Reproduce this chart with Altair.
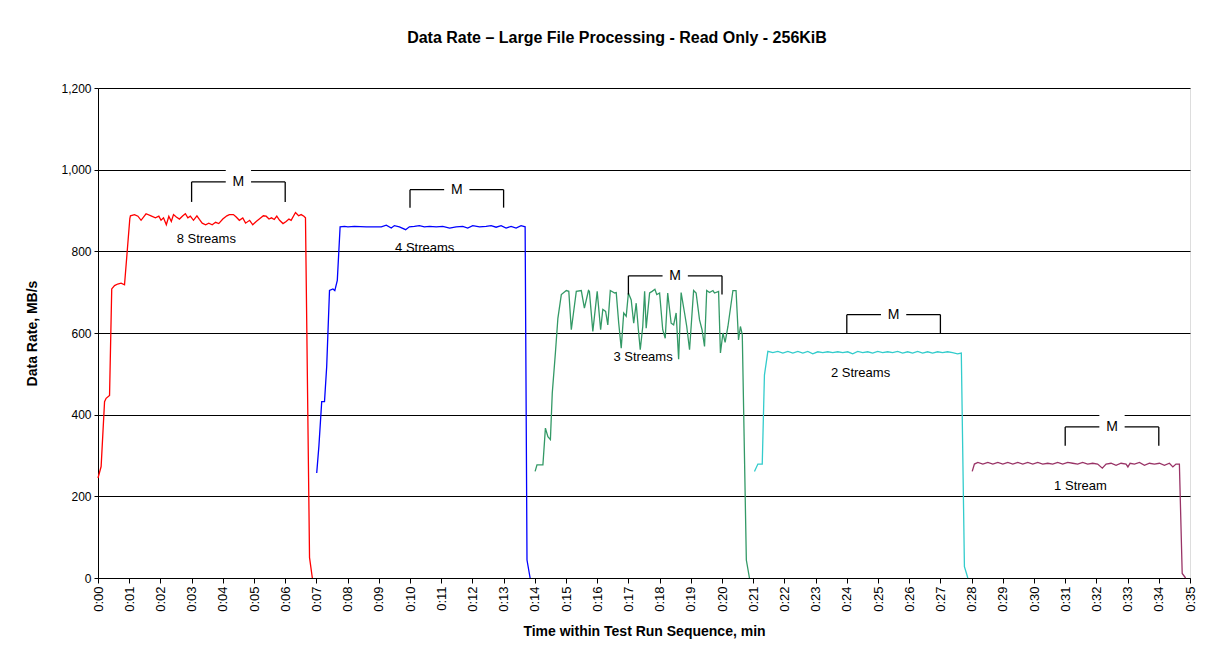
import altair as alt
import pandas as pd

# ---- data ----
red_t = [0.00, 0.10, 0.21, 0.26, 0.37, 0.44, 0.53, 0.63, 0.74, 0.85, 1.02, 1.04, 1.17, 1.28, 1.38, 1.54, 1.70, 1.84, 1.95, 2.02,
         2.10, 2.19, 2.27, 2.35, 2.42, 2.51, 2.61, 2.72, 2.80, 2.88, 2.96, 3.06, 3.17, 3.25, 3.34, 3.45, 3.55, 3.66, 3.77, 3.87,
         4.00, 4.13, 4.21, 4.34, 4.43, 4.53, 4.64, 4.73, 4.86, 4.96, 5.07, 5.17, 5.30, 5.39, 5.48, 5.56, 5.65, 5.73, 5.82, 5.93,
         6.03, 6.12, 6.19, 6.33, 6.43, 6.51, 6.60, 6.65, 6.78, 6.87]
red_v = [245, 273, 432, 440, 447, 708, 716, 720, 722, 718, 880, 887, 890, 886, 876, 892, 887, 882, 886, 876,
         882, 865, 886, 873, 890, 884, 879, 887, 892, 882, 886, 876, 887, 878, 869, 865, 869, 865, 871, 868,
         879, 887, 890, 890, 884, 876, 882, 869, 876, 865, 873, 879, 887, 886, 879, 882, 878, 886, 876, 868,
         873, 879, 876, 895, 887, 890, 886, 882, 50, 0]

blue_t = [7.01, 7.08, 7.17, 7.26, 7.33, 7.42, 7.53, 7.59, 7.67, 7.76, 7.90, 8.01, 8.22, 8.60, 9.08, 9.24, 9.40, 9.50, 9.66, 9.86,
          9.98, 10.14, 10.30, 10.46, 10.63, 10.84, 11.05, 11.27, 11.48, 11.69, 11.85, 12.01, 12.23, 12.44, 12.60, 12.76, 12.92,
          13.08, 13.24, 13.40, 13.56, 13.69, 13.75, 13.85]
blue_v = [257, 323, 432, 432, 518, 704, 708, 704, 729, 860, 861, 860, 861, 860, 860, 864, 857, 863, 860, 853,
          860, 861, 863, 860, 861, 860, 861, 857, 860, 861, 857, 863, 860, 861, 863, 859, 863,
          857, 861, 857, 863, 860, 44, 0]

green_t = [14.01, 14.07, 14.26, 14.34, 14.42, 14.50, 14.56, 14.66, 14.74, 14.85, 15.01, 15.09, 15.17, 15.33, 15.49, 15.59, 15.72,
           15.75, 15.86, 16.00, 16.11, 16.18, 16.27, 16.34, 16.42, 16.56, 16.61, 16.69, 16.77, 16.85, 16.93, 17.00, 17.09,
           17.17, 17.25, 17.32, 17.38, 17.46, 17.52, 17.57, 17.68, 17.76, 17.85, 17.91, 18.00, 18.10, 18.18, 18.26, 18.37,
           18.45, 18.53, 18.61, 18.69, 18.80, 18.87, 18.96, 19.09, 19.17, 19.28, 19.36, 19.44, 19.51, 19.60, 19.71, 19.76,
           19.89, 19.95, 20.03, 20.10, 20.19, 20.35, 20.45, 20.53, 20.59, 20.65, 20.78, 20.88]
green_v = [261, 277, 277, 367, 346, 339, 453, 551, 636, 694, 704, 702, 608, 702, 704, 661, 704,
           702, 604, 702, 608, 658, 653, 620, 704, 698, 699, 624, 563, 649, 641, 698, 681,
           624, 673, 608, 559, 616, 702, 612, 698, 702, 707, 694, 698, 608, 587, 698, 624,
           620, 649, 536, 699, 649, 616, 559, 704, 698, 632, 608, 567, 704, 699, 704, 698,
           702, 551, 600, 577, 616, 704, 704, 583, 616, 596, 44, 0]

cyan_t = [21.04, 21.15, 21.29, 21.36, 21.47, 21.63, 21.79, 21.95, 22.11, 22.27, 22.43, 22.59, 22.75, 22.91, 23.07, 23.23,
          23.39, 23.55, 23.71, 23.87, 24.03, 24.19, 24.35, 24.51, 24.67, 24.83, 24.99, 25.15, 25.31, 25.47, 25.63, 25.79,
          25.95, 26.11, 26.27, 26.43, 26.59, 26.75, 26.91, 27.07, 27.23, 27.39, 27.55, 27.67, 27.77, 27.88]
cyan_v = [261, 279, 279, 497, 555, 552, 555, 551, 555, 551, 555, 551, 555, 549, 554, 552,
          554, 552, 554, 552, 554, 549, 555, 552, 554, 551, 555, 552, 554, 552, 555, 551,
          554, 551, 555, 551, 554, 551, 554, 552, 554, 552, 549, 551, 28, 0]

purple_t = [28.02, 28.09, 28.20, 28.36, 28.52, 28.68, 28.84, 29.00, 29.16, 29.32, 29.48, 29.64, 29.80, 29.96, 30.12, 30.28,
            30.44, 30.60, 30.76, 30.92, 31.08, 31.24, 31.40, 31.56, 31.72, 31.88, 32.04, 32.19, 32.31, 32.47, 32.63, 32.79,
            32.95, 33.01, 33.08, 33.22, 33.38, 33.54, 33.70, 33.86, 34.02, 34.18, 34.34, 34.45, 34.55, 34.66, 34.75, 34.86]
purple_v = [261, 279, 283, 279, 283, 279, 283, 279, 283, 279, 283, 279, 283, 279, 283, 279,
            281, 279, 283, 279, 283, 281, 279, 283, 279, 281, 279, 269, 279, 281, 276, 281,
            279, 272, 281, 279, 283, 276, 281, 279, 281, 276, 281, 272, 279, 279, 11, 0]

series_names = ["8 Streams", "4 Streams", "3 Streams", "2 Streams", "1 Stream"]
series_colors = ["#FF0000", "#0000FF", "#339966", "#33CCCC", "#993366"]

# measurement brackets ("M")
bracket_start = [3, 10, 17, 24, 31]
bracket_end = [6, 13, 20, 27, 34]
bracket_mid = [4.5, 11.5, 18.5, 25.5, 32.5]
bracket_top = [970, 951, 740, 645, 370]
bracket_bottom = [921, 907, 694, 600, 324]

# stream labels
label_text = ["8 Streams", "4 Streams", "3 Streams", "2 Streams", "1 Stream"]
label_t = [3.47, 10.47, 17.47, 24.44, 31.49]
label_v = [830, 808, 542, 502, 225]

y_ticks = [0, 200, 400, 600, 800, 1000, 1200]
x_ticks = list(range(0, 36))

# ---- tables ----
rows = []
for name, ts, vs in zip(series_names, [red_t, blue_t, green_t, cyan_t, purple_t],
                        [red_v, blue_v, green_v, cyan_v, purple_v]):
    for t, v in zip(ts, vs):
        rows.append({"t": t, "v": v, "series": name})
lines_df = pd.DataFrame(rows)

br_df = pd.DataFrame({"start": bracket_start, "end": bracket_end, "mid": bracket_mid,
                      "top": bracket_top, "bottom": bracket_bottom, "m": ["M"] * 5})
lab_df = pd.DataFrame({"text": label_text, "t": label_t, "v": label_v})

FONT = "Liberation Sans"

x_scale = alt.Scale(domain=[0, 35], nice=False, zero=False)
y_scale = alt.Scale(domain=[0, 1200], nice=False)

x_axis = alt.Axis(values=x_ticks, labelAngle=270, labelFontSize=13, labelFont=FONT, labelColor="black",
                  labelExpr="'0:' + (datum.value < 10 ? '0' : '') + datum.value",
                  tickColor="black", tickSize=5, domainColor="black", grid=False,
                  title="Time within Test Run Sequence, min", titleFont=FONT, titleFontSize=14,
                  titleFontWeight="bold", titleColor="black", titlePadding=13, labelPadding=3,
                  labelOverlap=False)
y_axis = alt.Axis(values=y_ticks, format=",.0f", labelFontSize=12, labelFont=FONT, labelColor="black",
                  tickColor="black", tickSize=4, domainColor="black", grid=True, gridColor="black",
                  gridWidth=1, title="Data Rate, MB/s", titleFont=FONT, titleFontSize=14,
                  titleFontWeight="bold", titleColor="black", titlePadding=21, labelPadding=3,
                  labelOverlap=False)


def X(field):
    return alt.X(field, scale=x_scale, axis=x_axis, title="Time within Test Run Sequence, min")


def Y(field):
    return alt.Y(field, scale=y_scale, axis=y_axis, title="Data Rate, MB/s")


lines = alt.Chart(lines_df).mark_line(strokeWidth=1.3).encode(
    x=X("t:Q"), y=Y("v:Q"),
    color=alt.Color("series:N", scale=alt.Scale(domain=series_names, range=series_colors), legend=None),
)

hrule = alt.Chart(br_df).mark_rule(color="black", strokeWidth=1.3).encode(
    x=X("start:Q"), x2="end:Q", y=Y("top:Q"))
lrule = alt.Chart(br_df).mark_rule(color="black", strokeWidth=1.3).encode(
    x=X("start:Q"), y=Y("bottom:Q"), y2="top:Q")
rrule = alt.Chart(br_df).mark_rule(color="black", strokeWidth=1.3).encode(
    x=X("end:Q"), y=Y("bottom:Q"), y2="top:Q")
box = alt.Chart(br_df).mark_point(shape="square", filled=True, fill="white", opacity=1,
                                  strokeWidth=0, size=640).encode(
    x=X("mid:Q"), y=Y("top:Q"))
mtext = alt.Chart(br_df).mark_text(font=FONT, fontSize=14, color="black", baseline="middle",
                                   align="center").encode(
    x=X("mid:Q"), y=Y("top:Q"), text="m:N")
ltext = alt.Chart(lab_df).mark_text(font=FONT, fontSize=13, color="black", baseline="middle",
                                    align="center").encode(
    x=X("t:Q"), y=Y("v:Q"), text="text:N")

chart = alt.layer(lines, hrule, lrule, rrule, box, mtext, ltext).properties(
    width=1092, height=490,
    autosize=alt.AutoSizeParams(type="none"),
    padding={"left": 90, "top": 80, "right": 14, "bottom": 76},
    title=alt.TitleParams("Data Rate – Large File Processing - Read Only - 256KiB", font=FONT, fontSize=16,
                          fontWeight="bold", color="black", anchor="middle", offset=36, dx=-27),
).configure_view(stroke="#808080", strokeWidth=1).configure(background="white")

chart.save("out.html", embed_options={"renderer": "svg", "actions": False})
